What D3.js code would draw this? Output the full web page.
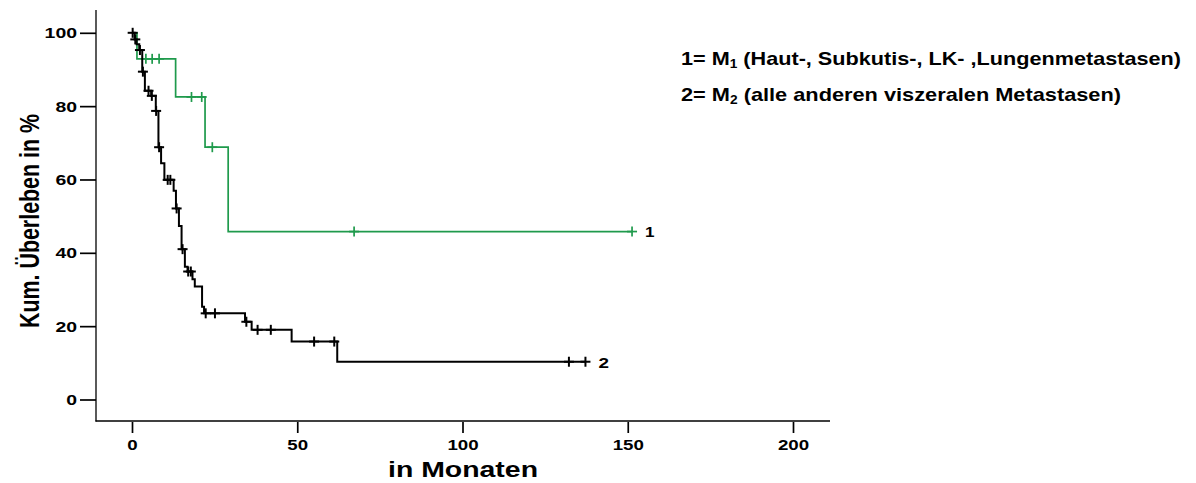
<!DOCTYPE html>
<html>
<head>
<meta charset="utf-8">
<script src="https://cdn.jsdelivr.net/npm/d3@7"></script>
<style>
  body { margin: 0; background: #fff; }
  svg { display: block; }
  text { font-family: "Liberation Sans", Arial, sans-serif; font-weight: bold; fill: #000; }
</style>
</head>
<body>
<div id="chart"></div>
<script>
// group 1 = M1 (green), group 2 = M2 (black); step times in months, survival in %
const times1 = [0, 1.5, 13.2, 22.1, 29.1];
const surv1 = [100, 92.9, 82.5, 68.8, 45.8];
const cens1 = [4.2, 6.1, 8.2, 18.0, 21.1, 24.3, 67.2, 151.3];
const end1 = 151.3;

const times2 = [0, 0.8, 1.4, 2.2, 3.1, 3.9, 5.8, 7.2, 8.0, 8.8, 9.8, 12.6, 13.3, 14.2, 15.0, 16.0, 16.8, 18.3, 19.0, 21.2, 21.8, 34.2, 36.2, 48.3, 62.1];
const surv2 = [100, 98.2, 96.9, 95.3, 89.4, 84.2, 82.8, 78.7, 68.8, 64.4, 59.9, 56.9, 52.1, 47.3, 41.0, 36.2, 34.9, 32.8, 30.8, 25.3, 23.5, 21.2, 19.0, 15.8, 10.3];
const cens2 = [0.2, 1.0, 2.4, 3.3, 5.0, 6.0, 7.3, 8.2, 10.8, 11.6, 13.5, 15.3, 17.0, 17.8, 22.3, 25.1, 34.6, 38.0, 42.0, 55.1, 61.2, 132.2, 137.2];
const end2 = 137.2;

const xTicks = [0, 50, 100, 150, 200];
const yTicks = [0, 20, 40, 60, 80, 100];

const width = 1196;
const height = 483;

const svg = d3.select("#chart")
  .append("svg")
  .attr("width", width)
  .attr("height", height)
  .attr("viewBox", `0 0 ${width} ${height}`);

const xScale = d3.scaleLinear().domain([0, 200]).range([132, 793]);
const yScale = d3.scaleLinear().domain([0, 100]).range([399.5, 32.8]);

// survival level at time t (step lookup)
function levelAt(times, surv, t) {
  const i = d3.bisectRight(times, t) - 1;
  return surv[Math.max(0, i)];
}

// axes lines
svg.append("line")
  .attr("x1", 96).attr("x2", 96).attr("y1", 10).attr("y2", 421.5)
  .attr("stroke", "#000").attr("stroke-width", 1.3);
svg.append("line")
  .attr("x1", 95.5).attr("x2", 830).attr("y1", 421).attr("y2", 421)
  .attr("stroke", "#000").attr("stroke-width", 1.3);

// Y axis
const yAxis = svg.append("g")
  .attr("transform", "translate(96,0)")
  .call(d3.axisLeft(yScale).tickValues(yTicks).tickSize(16).tickPadding(3));
yAxis.select(".domain").remove();
yAxis.selectAll(".tick line").attr("stroke", "#000").attr("stroke-width", 1.7);
yAxis.selectAll(".tick text")
  .attr("font-family", "Liberation Sans, Arial, sans-serif")
  .attr("font-weight", "bold")
  .attr("font-size", "14px")
  .attr("dy", "0.36em")
  .attr("textLength", d => String(d).length * 10.8)
  .attr("lengthAdjust", "spacingAndGlyphs");

// X axis
const xAxis = svg.append("g")
  .attr("transform", "translate(0,422)")
  .call(d3.axisBottom(xScale).tickValues(xTicks).tickSize(11));
xAxis.select(".domain").remove();
xAxis.selectAll(".tick line").attr("stroke", "#000").attr("stroke-width", 1.7);
xAxis.selectAll(".tick text")
  .attr("font-family", "Liberation Sans, Arial, sans-serif")
  .attr("font-weight", "bold")
  .attr("font-size", "14px")
  .attr("y", 27.5)
  .attr("dy", 0)
  .attr("textLength", d => String(d).length * 10.4)
  .attr("lengthAdjust", "spacingAndGlyphs");

// axis titles
svg.append("text")
  .attr("x", 463)
  .attr("y", 477)
  .attr("text-anchor", "middle")
  .attr("font-size", "22px")
  .attr("textLength", 150)
  .attr("lengthAdjust", "spacingAndGlyphs")
  .text("in Monaten");

svg.append("text")
  .attr("transform", "translate(39,221) scale(1.35,1) rotate(-90)")
  .attr("text-anchor", "middle")
  .attr("font-size", "21px")
  .attr("textLength", 214)
  .attr("lengthAdjust", "spacingAndGlyphs")
  .text("Kum. Überleben in %");

// curves
const line = d3.line()
  .x(d => xScale(d[0]))
  .y(d => yScale(d[1]))
  .curve(d3.curveStepAfter);

const groups = [
  { times: times1, surv: surv1, cens: cens1, end: end1, color: "#1f9a4c", sw: 1.7 },
  { times: times2, surv: surv2, cens: cens2, end: end2, color: "#000000", sw: 2 }
];

groups.forEach(g => {
  const pts = g.times.map((t, i) => [t, g.surv[i]]);
  pts.push([g.end, g.surv[g.surv.length - 1]]);

  svg.append("path")
    .attr("d", line(pts))
    .attr("fill", "none")
    .attr("stroke", g.color)
    .attr("stroke-width", g.sw);

  // censor marks (+)
  const marks = svg.append("g").attr("stroke", g.color).attr("stroke-width", g.sw);
  marks.selectAll("line.v")
    .data(g.cens)
    .join("line")
    .attr("class", "v")
    .attr("x1", d => xScale(d)).attr("x2", d => xScale(d))
    .attr("y1", d => yScale(levelAt(g.times, g.surv, d)) - 5)
    .attr("y2", d => yScale(levelAt(g.times, g.surv, d)) + 5);
  marks.selectAll("line.h")
    .data(g.cens)
    .join("line")
    .attr("class", "h")
    .attr("x1", d => xScale(d) - 5).attr("x2", d => xScale(d) + 5)
    .attr("y1", d => yScale(levelAt(g.times, g.surv, d)))
    .attr("y2", d => yScale(levelAt(g.times, g.surv, d)));
});

// curve labels
svg.append("text")
  .attr("x", xScale(end1) + 13)
  .attr("y", yScale(surv1[surv1.length - 1]) + 5.5)
  .attr("font-size", "15px")
  .attr("textLength", 9.5)
  .attr("lengthAdjust", "spacingAndGlyphs")
  .text("1");
svg.append("text")
  .attr("x", xScale(end2) + 13)
  .attr("y", yScale(surv2[surv2.length - 1]) + 6.5)
  .attr("font-size", "15px")
  .attr("textLength", 10.5)
  .attr("lengthAdjust", "spacingAndGlyphs")
  .text("2");

// legend
const legendRows = [
  { num: "1", sub: "1", rest: " (Haut-, Subkutis-, LK- ,Lungenmetastasen)", y: 65, len: 500 },
  { num: "2", sub: "2", rest: " (alle anderen viszeralen Metastasen)", y: 101, len: 440 }
];

legendRows.forEach(r => {
  const t = svg.append("text")
    .attr("x", 681)
    .attr("y", r.y)
    .attr("font-size", "19px")
    .attr("textLength", r.len)
    .attr("lengthAdjust", "spacingAndGlyphs");
  t.append("tspan").text(`${r.num}= M`);
  t.append("tspan").attr("font-size", "12px").attr("dy", 3).text(r.sub);
  t.append("tspan").attr("dy", -3).text(r.rest);
});
</script>
</body>
</html>
